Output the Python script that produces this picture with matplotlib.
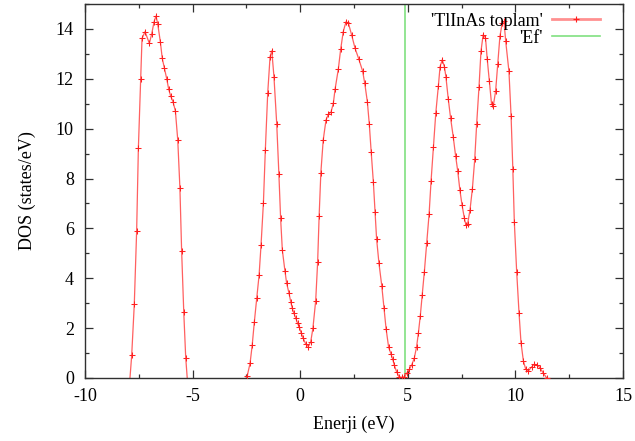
import numpy as np
import matplotlib
matplotlib.use('Agg')
import matplotlib.pyplot as plt
from matplotlib.ticker import MultipleLocator

plt.rcParams['font.family'] = ['Liberation Serif', 'DejaVu Serif']
plt.rcParams['axes.unicode_minus'] = False

# first band (valence, lower)
energy_1 = [-7.91, -7.83, -7.71, -7.60, -7.52, -7.41, -7.35, -7.21, -7.01, -6.90,
            -6.79, -6.70, -6.62, -6.50, -6.41, -6.31, -6.20, -6.11, -6.02, -5.91,
            -5.80, -5.69, -5.59, -5.51, -5.41, -5.32, -5.25]
dos_1 = [0.0, 0.91, 2.95, 5.90, 9.21, 11.98, 13.62, 13.89, 13.42, 13.80,
         14.29, 14.52, 14.20, 13.49, 12.82, 12.42, 11.99, 11.58, 11.31, 11.08,
         10.71, 9.55, 7.63, 5.11, 2.63, 0.82, 0.0]

# second part, from -2.5 eV up to the top of the conduction band
energy_2 = [-2.50, -2.46, -2.33, -2.23, -2.13, -2.02, -1.91, -1.82, -1.71, -1.62,
            -1.51, -1.40, -1.32, -1.22, -1.09, -0.99, -0.91, -0.83, -0.71, -0.63,
            -0.52, -0.44, -0.37, -0.29, -0.20, -0.12, -0.04, 0.04, 0.14, 0.26,
            0.38, 0.49, 0.59, 0.72, 0.81, 0.88, 0.96, 1.07, 1.20, 1.31,
            1.43, 1.54, 1.62, 1.77, 1.88, 2.00, 2.13, 2.24, 2.39, 2.55,
            2.72, 2.90, 3.00, 3.12, 3.21, 3.30, 3.40, 3.48, 3.55, 3.66,
            3.79, 3.89, 3.99, 4.11, 4.22, 4.30, 4.37, 4.48, 4.59, 4.71,
            4.84, 4.95, 5.07, 5.18, 5.30, 5.41, 5.49, 5.58, 5.67, 5.77,
            5.88, 5.99, 6.08, 6.19, 6.30, 6.42, 6.50, 6.60, 6.70, 6.77,
            6.88, 6.99, 7.11, 7.22, 7.32, 7.42, 7.52, 7.63, 7.70, 7.78,
            7.89, 8.00, 8.11, 8.20, 8.31, 8.40, 8.50, 8.61, 8.69, 8.79,
            8.89, 8.97, 9.08, 9.18, 9.28, 9.39, 9.47, 9.55, 9.70, 9.80,
            9.88, 9.95, 10.06, 10.17, 10.26, 10.37, 10.48, 10.60, 10.76, 10.88,
            11.02, 11.14, 11.30, 11.45]
dos_2 = [0.0, 0.09, 0.59, 1.32, 2.26, 3.20, 4.13, 5.33, 7.01, 9.15,
         11.42, 12.89, 13.12, 12.09, 10.18, 8.17, 6.40, 5.13, 4.30, 3.80,
         3.40, 3.06, 2.80, 2.59, 2.39, 2.19, 2.03, 1.82, 1.59, 1.36,
         1.26, 1.46, 1.99, 3.10, 4.64, 6.50, 8.24, 9.55, 10.35, 10.58,
         10.66, 11.02, 11.58, 12.38, 13.18, 13.89, 14.29, 14.23, 13.76, 13.22,
         12.80, 12.31, 11.82, 11.08, 10.19, 9.05, 7.85, 6.67, 5.58, 4.60,
         3.70, 2.82, 1.98, 1.23, 0.96, 0.75, 0.52, 0.25, 0.05, 0.03,
         0.05, 0.19, 0.35, 0.52, 0.79, 1.26, 1.79, 2.49, 3.33, 4.27,
         5.40, 6.58, 7.89, 9.25, 10.62, 11.71, 12.49, 12.76, 12.49, 12.09,
         11.19, 10.42, 9.68, 8.92, 8.30, 7.54, 6.94, 6.40, 6.14, 6.18,
         6.74, 7.58, 8.77, 10.19, 11.69, 13.10, 13.76, 13.65, 12.80, 11.90,
         11.00, 10.90, 11.50, 12.60, 13.70, 14.25, 14.30, 13.50, 12.30, 10.50,
         8.40, 6.26, 4.25, 2.59, 1.42, 0.69, 0.35, 0.28, 0.45, 0.55,
         0.52, 0.41, 0.19, 0.01]

fermi_energy = 4.85

x_ticks = [-10, -5, 0, 5, 10, 15]
y_ticks = [0, 2, 4, 6, 8, 10, 12, 14]


def join_segments(xs, ys):
    x_all, y_all = [], []
    for x, y in zip(xs, ys):
        x_all += list(x) + [np.nan]
        y_all += list(y) + [np.nan]
    return np.array(x_all), np.array(y_all)


energy, dos = join_segments([energy_1, energy_2], [dos_1, dos_2])

fig = plt.figure(figsize=(6.35, 4.41), dpi=100)
ax = fig.add_axes([85 / 635, 63 / 441, 538 / 635, 374 / 441])

fs = 13
line_red = '#ff6060'
mark_red = '#ff2020'
green = '#80e080'

# line and markers, markers left off the zero end points
ax.plot(energy, dos, color=line_red, lw=0.9, zorder=2)
marked = np.where(dos > 0.005, dos, np.nan)
ax.plot(energy, marked, ls='none', marker='+', ms=5, mew=0.75, color=mark_red, zorder=3)
ax.axvline(fermi_energy, color=green, lw=1.2, zorder=1)

# legend handles
h1, = ax.plot([], [], color='#ff9090', lw=2.0, marker='+', ms=5, mew=0.8,
              mec=mark_red, label="'TlInAs toplam'")
h2, = ax.plot([], [], color=green, lw=1.2, label="'Ef'")
ax.legend(handles=[h1, h2], loc='upper right', bbox_to_anchor=(0.957, 0.977),
          frameon=False, markerfirst=False, numpoints=1, fontsize=fs,
          handlelength=2.67, handletextpad=0.5, labelspacing=0.0,
          borderpad=0, borderaxespad=0)

ax.set_xlim(-10, 15)
ax.set_ylim(0, 15)
ax.set_xticks(x_ticks)
ax.set_yticks(y_ticks)
ax.xaxis.set_minor_locator(MultipleLocator(2.5))
ax.yaxis.set_minor_locator(MultipleLocator(1))
ax.tick_params(which='both', direction='in', top=True, right=True,
               color='#303030', labelsize=fs)
ax.tick_params(which='major', length=6, width=0.9)
ax.tick_params(which='minor', length=3, width=0.9)
ax.tick_params(axis='x', pad=7)
ax.tick_params(axis='y', pad=8)
for s in ax.spines.values():
    s.set_color('#303030')
    s.set_linewidth(1.0)

ax.set_xlabel('Enerji (eV)', fontsize=fs, labelpad=8)
ax.set_ylabel('DOS (states/eV)', fontsize=fs, labelpad=14)

fig.savefig('out.png', dpi=100)
